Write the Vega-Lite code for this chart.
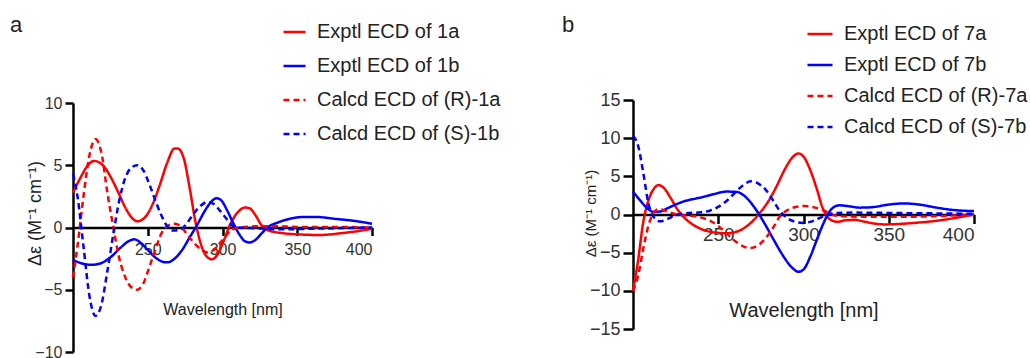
{
  "$schema": "https://vega.github.io/schema/vega-lite/v6.json",
  "background": "white",
  "padding": {"left": 10, "top": 13, "right": 0, "bottom": 5},
  "bounds": "full",
  "spacing": 61,
  "config": {
    "font": "Liberation Sans",
    "view": {"stroke": null},
    "axis": {
      "grid": false,
      "domainColor": "black",
      "domainWidth": 2.5,
      "tickColor": "black",
      "tickWidth": 2.5,
      "labelColor": "#333",
      "titleColor": "#222",
      "titleFontWeight": "normal",
      "labelFont": "Liberation Sans",
      "titleFont": "Liberation Sans"
    },
    "legend": {
      "labelFont": "Liberation Sans",
      "labelColor": "#222"
    },
    "title": {"font": "Liberation Sans", "color": "#222", "fontWeight": "normal"}
  },
  "resolve": {
    "scale": {"color": "independent", "strokeDash": "independent", "x": "independent", "y": "independent"},
    "legend": {"color": "independent", "strokeDash": "independent"}
  },
  "datasets": {
    "a": [
      {"s": "Exptl ECD of 1a", "x": 200, "y": 2.8},
      {"s": "Exptl ECD of 1a", "x": 205, "y": 4.0},
      {"s": "Exptl ECD of 1a", "x": 210, "y": 5.0},
      {"s": "Exptl ECD of 1a", "x": 214, "y": 5.35},
      {"s": "Exptl ECD of 1a", "x": 220, "y": 5.0},
      {"s": "Exptl ECD of 1a", "x": 225, "y": 4.1},
      {"s": "Exptl ECD of 1a", "x": 230, "y": 2.9},
      {"s": "Exptl ECD of 1a", "x": 235, "y": 1.6},
      {"s": "Exptl ECD of 1a", "x": 240, "y": 0.7},
      {"s": "Exptl ECD of 1a", "x": 243, "y": 0.5},
      {"s": "Exptl ECD of 1a", "x": 248, "y": 0.8},
      {"s": "Exptl ECD of 1a", "x": 253, "y": 1.8},
      {"s": "Exptl ECD of 1a", "x": 258, "y": 3.4},
      {"s": "Exptl ECD of 1a", "x": 263, "y": 5.2},
      {"s": "Exptl ECD of 1a", "x": 268, "y": 6.35},
      {"s": "Exptl ECD of 1a", "x": 270, "y": 6.35},
      {"s": "Exptl ECD of 1a", "x": 274, "y": 5.6},
      {"s": "Exptl ECD of 1a", "x": 278, "y": 3.2},
      {"s": "Exptl ECD of 1a", "x": 282, "y": 0.4},
      {"s": "Exptl ECD of 1a", "x": 286, "y": -1.5},
      {"s": "Exptl ECD of 1a", "x": 290, "y": -2.4},
      {"s": "Exptl ECD of 1a", "x": 293, "y": -2.55},
      {"s": "Exptl ECD of 1a", "x": 297, "y": -2.1},
      {"s": "Exptl ECD of 1a", "x": 301, "y": -1.0},
      {"s": "Exptl ECD of 1a", "x": 305, "y": 0.2},
      {"s": "Exptl ECD of 1a", "x": 310, "y": 1.2},
      {"s": "Exptl ECD of 1a", "x": 315, "y": 1.6},
      {"s": "Exptl ECD of 1a", "x": 318, "y": 1.55},
      {"s": "Exptl ECD of 1a", "x": 322, "y": 1.0},
      {"s": "Exptl ECD of 1a", "x": 326, "y": 0.2},
      {"s": "Exptl ECD of 1a", "x": 330, "y": -0.2},
      {"s": "Exptl ECD of 1a", "x": 340, "y": -0.45},
      {"s": "Exptl ECD of 1a", "x": 350, "y": -0.55},
      {"s": "Exptl ECD of 1a", "x": 365, "y": -0.6},
      {"s": "Exptl ECD of 1a", "x": 380, "y": -0.45},
      {"s": "Exptl ECD of 1a", "x": 390, "y": -0.3},
      {"s": "Exptl ECD of 1a", "x": 400, "y": -0.1},

      {"s": "Exptl ECD of 1b", "x": 200, "y": -2.6},
      {"s": "Exptl ECD of 1b", "x": 205, "y": -2.85},
      {"s": "Exptl ECD of 1b", "x": 212, "y": -3.0},
      {"s": "Exptl ECD of 1b", "x": 218, "y": -2.9},
      {"s": "Exptl ECD of 1b", "x": 225, "y": -2.4},
      {"s": "Exptl ECD of 1b", "x": 232, "y": -1.6},
      {"s": "Exptl ECD of 1b", "x": 238, "y": -1.05},
      {"s": "Exptl ECD of 1b", "x": 241, "y": -0.95},
      {"s": "Exptl ECD of 1b", "x": 245, "y": -1.2},
      {"s": "Exptl ECD of 1b", "x": 250, "y": -1.8},
      {"s": "Exptl ECD of 1b", "x": 255, "y": -2.4},
      {"s": "Exptl ECD of 1b", "x": 260, "y": -2.75},
      {"s": "Exptl ECD of 1b", "x": 263, "y": -2.8},
      {"s": "Exptl ECD of 1b", "x": 268, "y": -2.5},
      {"s": "Exptl ECD of 1b", "x": 273, "y": -1.8},
      {"s": "Exptl ECD of 1b", "x": 278, "y": -0.8},
      {"s": "Exptl ECD of 1b", "x": 283, "y": 0.2},
      {"s": "Exptl ECD of 1b", "x": 288, "y": 1.3},
      {"s": "Exptl ECD of 1b", "x": 292, "y": 2.0},
      {"s": "Exptl ECD of 1b", "x": 296, "y": 2.35},
      {"s": "Exptl ECD of 1b", "x": 299, "y": 2.2},
      {"s": "Exptl ECD of 1b", "x": 303, "y": 1.4},
      {"s": "Exptl ECD of 1b", "x": 307, "y": 0.4},
      {"s": "Exptl ECD of 1b", "x": 311, "y": -0.5},
      {"s": "Exptl ECD of 1b", "x": 315, "y": -1.1},
      {"s": "Exptl ECD of 1b", "x": 318, "y": -1.2},
      {"s": "Exptl ECD of 1b", "x": 322, "y": -1.0},
      {"s": "Exptl ECD of 1b", "x": 326, "y": -0.5},
      {"s": "Exptl ECD of 1b", "x": 330, "y": 0.0},
      {"s": "Exptl ECD of 1b", "x": 337, "y": 0.4},
      {"s": "Exptl ECD of 1b", "x": 345, "y": 0.7},
      {"s": "Exptl ECD of 1b", "x": 355, "y": 0.85},
      {"s": "Exptl ECD of 1b", "x": 362, "y": 0.85},
      {"s": "Exptl ECD of 1b", "x": 375, "y": 0.7},
      {"s": "Exptl ECD of 1b", "x": 390, "y": 0.5},
      {"s": "Exptl ECD of 1b", "x": 400, "y": 0.3},

      {"s": "Calcd ECD of (R)-1a", "x": 200, "y": -4.0},
      {"s": "Calcd ECD of (R)-1a", "x": 203, "y": -1.5},
      {"s": "Calcd ECD of (R)-1a", "x": 207, "y": 2.5},
      {"s": "Calcd ECD of (R)-1a", "x": 211, "y": 5.8},
      {"s": "Calcd ECD of (R)-1a", "x": 215, "y": 7.1},
      {"s": "Calcd ECD of (R)-1a", "x": 219, "y": 6.0},
      {"s": "Calcd ECD of (R)-1a", "x": 223, "y": 2.8},
      {"s": "Calcd ECD of (R)-1a", "x": 227, "y": 0.0},
      {"s": "Calcd ECD of (R)-1a", "x": 231, "y": -2.5},
      {"s": "Calcd ECD of (R)-1a", "x": 235, "y": -4.0},
      {"s": "Calcd ECD of (R)-1a", "x": 239, "y": -4.8},
      {"s": "Calcd ECD of (R)-1a", "x": 243, "y": -5.0},
      {"s": "Calcd ECD of (R)-1a", "x": 247, "y": -4.5},
      {"s": "Calcd ECD of (R)-1a", "x": 251, "y": -3.2},
      {"s": "Calcd ECD of (R)-1a", "x": 255, "y": -1.8},
      {"s": "Calcd ECD of (R)-1a", "x": 259, "y": -0.5},
      {"s": "Calcd ECD of (R)-1a", "x": 263, "y": 0.1},
      {"s": "Calcd ECD of (R)-1a", "x": 268, "y": 0.3},
      {"s": "Calcd ECD of (R)-1a", "x": 272, "y": 0.1},
      {"s": "Calcd ECD of (R)-1a", "x": 276, "y": -0.5},
      {"s": "Calcd ECD of (R)-1a", "x": 280, "y": -1.1},
      {"s": "Calcd ECD of (R)-1a", "x": 285, "y": -1.7},
      {"s": "Calcd ECD of (R)-1a", "x": 290, "y": -2.0},
      {"s": "Calcd ECD of (R)-1a", "x": 294, "y": -1.8},
      {"s": "Calcd ECD of (R)-1a", "x": 298, "y": -1.3},
      {"s": "Calcd ECD of (R)-1a", "x": 302, "y": -0.7},
      {"s": "Calcd ECD of (R)-1a", "x": 306, "y": -0.2},
      {"s": "Calcd ECD of (R)-1a", "x": 312, "y": 0.0},
      {"s": "Calcd ECD of (R)-1a", "x": 325, "y": 0.1},
      {"s": "Calcd ECD of (R)-1a", "x": 335, "y": 0.1},
      {"s": "Calcd ECD of (R)-1a", "x": 350, "y": 0.05},
      {"s": "Calcd ECD of (R)-1a", "x": 375, "y": 0.05},
      {"s": "Calcd ECD of (R)-1a", "x": 400, "y": 0.0},

      {"s": "Calcd ECD of (S)-1b", "x": 200, "y": 4.3},
      {"s": "Calcd ECD of (S)-1b", "x": 203, "y": 2.5},
      {"s": "Calcd ECD of (S)-1b", "x": 207, "y": -1.5},
      {"s": "Calcd ECD of (S)-1b", "x": 211, "y": -5.5},
      {"s": "Calcd ECD of (S)-1b", "x": 215, "y": -7.1},
      {"s": "Calcd ECD of (S)-1b", "x": 219, "y": -6.2},
      {"s": "Calcd ECD of (S)-1b", "x": 223, "y": -3.5},
      {"s": "Calcd ECD of (S)-1b", "x": 227, "y": -0.5},
      {"s": "Calcd ECD of (S)-1b", "x": 231, "y": 2.2},
      {"s": "Calcd ECD of (S)-1b", "x": 235, "y": 4.0},
      {"s": "Calcd ECD of (S)-1b", "x": 239, "y": 4.8},
      {"s": "Calcd ECD of (S)-1b", "x": 243, "y": 5.0},
      {"s": "Calcd ECD of (S)-1b", "x": 247, "y": 4.6},
      {"s": "Calcd ECD of (S)-1b", "x": 251, "y": 3.5},
      {"s": "Calcd ECD of (S)-1b", "x": 255, "y": 2.2},
      {"s": "Calcd ECD of (S)-1b", "x": 259, "y": 1.0},
      {"s": "Calcd ECD of (S)-1b", "x": 263, "y": 0.1},
      {"s": "Calcd ECD of (S)-1b", "x": 267, "y": -0.25},
      {"s": "Calcd ECD of (S)-1b", "x": 271, "y": -0.2},
      {"s": "Calcd ECD of (S)-1b", "x": 276, "y": 0.3},
      {"s": "Calcd ECD of (S)-1b", "x": 280, "y": 1.0},
      {"s": "Calcd ECD of (S)-1b", "x": 285, "y": 1.7},
      {"s": "Calcd ECD of (S)-1b", "x": 290, "y": 2.05},
      {"s": "Calcd ECD of (S)-1b", "x": 294, "y": 1.9},
      {"s": "Calcd ECD of (S)-1b", "x": 298, "y": 1.4},
      {"s": "Calcd ECD of (S)-1b", "x": 302, "y": 0.8},
      {"s": "Calcd ECD of (S)-1b", "x": 306, "y": 0.2},
      {"s": "Calcd ECD of (S)-1b", "x": 310, "y": 0.0},
      {"s": "Calcd ECD of (S)-1b", "x": 320, "y": -0.05},
      {"s": "Calcd ECD of (S)-1b", "x": 340, "y": -0.15},
      {"s": "Calcd ECD of (S)-1b", "x": 360, "y": -0.1},
      {"s": "Calcd ECD of (S)-1b", "x": 380, "y": -0.05},
      {"s": "Calcd ECD of (S)-1b", "x": 400, "y": 0.0}
    ],
    "b": [
      {"s": "Exptl ECD of 7a", "x": 200, "y": -10.0},
      {"s": "Exptl ECD of 7a", "x": 203, "y": -6.0},
      {"s": "Exptl ECD of 7a", "x": 206, "y": -1.0},
      {"s": "Exptl ECD of 7a", "x": 209, "y": 1.8},
      {"s": "Exptl ECD of 7a", "x": 212, "y": 3.3},
      {"s": "Exptl ECD of 7a", "x": 215, "y": 3.85},
      {"s": "Exptl ECD of 7a", "x": 218, "y": 3.5},
      {"s": "Exptl ECD of 7a", "x": 222, "y": 2.2},
      {"s": "Exptl ECD of 7a", "x": 226, "y": 0.7},
      {"s": "Exptl ECD of 7a", "x": 230, "y": -0.4},
      {"s": "Exptl ECD of 7a", "x": 235, "y": -1.3},
      {"s": "Exptl ECD of 7a", "x": 240, "y": -1.9},
      {"s": "Exptl ECD of 7a", "x": 245, "y": -2.25},
      {"s": "Exptl ECD of 7a", "x": 250, "y": -2.4},
      {"s": "Exptl ECD of 7a", "x": 255, "y": -2.45},
      {"s": "Exptl ECD of 7a", "x": 260, "y": -2.3},
      {"s": "Exptl ECD of 7a", "x": 265, "y": -1.8},
      {"s": "Exptl ECD of 7a", "x": 270, "y": -0.9},
      {"s": "Exptl ECD of 7a", "x": 274, "y": 0.1},
      {"s": "Exptl ECD of 7a", "x": 279, "y": 1.6},
      {"s": "Exptl ECD of 7a", "x": 284, "y": 3.6},
      {"s": "Exptl ECD of 7a", "x": 289, "y": 5.9},
      {"s": "Exptl ECD of 7a", "x": 294, "y": 7.6},
      {"s": "Exptl ECD of 7a", "x": 297, "y": 8.0},
      {"s": "Exptl ECD of 7a", "x": 300, "y": 7.6},
      {"s": "Exptl ECD of 7a", "x": 304, "y": 5.8},
      {"s": "Exptl ECD of 7a", "x": 308, "y": 3.2},
      {"s": "Exptl ECD of 7a", "x": 311, "y": 1.0},
      {"s": "Exptl ECD of 7a", "x": 314, "y": -0.3},
      {"s": "Exptl ECD of 7a", "x": 317, "y": -0.8},
      {"s": "Exptl ECD of 7a", "x": 320, "y": -0.95},
      {"s": "Exptl ECD of 7a", "x": 325, "y": -0.75},
      {"s": "Exptl ECD of 7a", "x": 330, "y": -0.7},
      {"s": "Exptl ECD of 7a", "x": 335, "y": -0.9},
      {"s": "Exptl ECD of 7a", "x": 342, "y": -1.2},
      {"s": "Exptl ECD of 7a", "x": 348, "y": -1.3},
      {"s": "Exptl ECD of 7a", "x": 355, "y": -1.25},
      {"s": "Exptl ECD of 7a", "x": 365, "y": -1.1},
      {"s": "Exptl ECD of 7a", "x": 375, "y": -0.9},
      {"s": "Exptl ECD of 7a", "x": 385, "y": -0.6},
      {"s": "Exptl ECD of 7a", "x": 395, "y": -0.2},
      {"s": "Exptl ECD of 7a", "x": 400, "y": 0.0},

      {"s": "Exptl ECD of 7b", "x": 200, "y": 3.0},
      {"s": "Exptl ECD of 7b", "x": 204, "y": 1.9},
      {"s": "Exptl ECD of 7b", "x": 208, "y": 0.9},
      {"s": "Exptl ECD of 7b", "x": 212, "y": 0.35},
      {"s": "Exptl ECD of 7b", "x": 216, "y": 0.4},
      {"s": "Exptl ECD of 7b", "x": 220, "y": 0.8},
      {"s": "Exptl ECD of 7b", "x": 226, "y": 1.4},
      {"s": "Exptl ECD of 7b", "x": 231, "y": 1.8},
      {"s": "Exptl ECD of 7b", "x": 237, "y": 2.1},
      {"s": "Exptl ECD of 7b", "x": 241, "y": 2.3},
      {"s": "Exptl ECD of 7b", "x": 248, "y": 2.7},
      {"s": "Exptl ECD of 7b", "x": 255, "y": 3.0},
      {"s": "Exptl ECD of 7b", "x": 261, "y": 2.95},
      {"s": "Exptl ECD of 7b", "x": 265, "y": 2.5},
      {"s": "Exptl ECD of 7b", "x": 270, "y": 1.3},
      {"s": "Exptl ECD of 7b", "x": 274, "y": 0.0},
      {"s": "Exptl ECD of 7b", "x": 278, "y": -1.5},
      {"s": "Exptl ECD of 7b", "x": 283, "y": -3.5},
      {"s": "Exptl ECD of 7b", "x": 288, "y": -5.4},
      {"s": "Exptl ECD of 7b", "x": 293, "y": -6.9},
      {"s": "Exptl ECD of 7b", "x": 297, "y": -7.5},
      {"s": "Exptl ECD of 7b", "x": 300, "y": -7.2},
      {"s": "Exptl ECD of 7b", "x": 304, "y": -5.5},
      {"s": "Exptl ECD of 7b", "x": 308, "y": -3.2},
      {"s": "Exptl ECD of 7b", "x": 312, "y": -1.0},
      {"s": "Exptl ECD of 7b", "x": 315, "y": 0.3},
      {"s": "Exptl ECD of 7b", "x": 318, "y": 1.0},
      {"s": "Exptl ECD of 7b", "x": 321, "y": 1.2},
      {"s": "Exptl ECD of 7b", "x": 326, "y": 1.1},
      {"s": "Exptl ECD of 7b", "x": 333, "y": 0.9},
      {"s": "Exptl ECD of 7b", "x": 340, "y": 0.95},
      {"s": "Exptl ECD of 7b", "x": 350, "y": 1.3},
      {"s": "Exptl ECD of 7b", "x": 359, "y": 1.45},
      {"s": "Exptl ECD of 7b", "x": 368, "y": 1.3},
      {"s": "Exptl ECD of 7b", "x": 378, "y": 0.9},
      {"s": "Exptl ECD of 7b", "x": 390, "y": 0.55},
      {"s": "Exptl ECD of 7b", "x": 400, "y": 0.45},

      {"s": "Calcd ECD of (R)-7a", "x": 200, "y": -10.0},
      {"s": "Calcd ECD of (R)-7a", "x": 203, "y": -8.0},
      {"s": "Calcd ECD of (R)-7a", "x": 206, "y": -4.5},
      {"s": "Calcd ECD of (R)-7a", "x": 209, "y": -1.5},
      {"s": "Calcd ECD of (R)-7a", "x": 212, "y": 0.2},
      {"s": "Calcd ECD of (R)-7a", "x": 215, "y": 0.7},
      {"s": "Calcd ECD of (R)-7a", "x": 219, "y": 0.5},
      {"s": "Calcd ECD of (R)-7a", "x": 224, "y": 0.1},
      {"s": "Calcd ECD of (R)-7a", "x": 230, "y": -0.1},
      {"s": "Calcd ECD of (R)-7a", "x": 238, "y": -0.3},
      {"s": "Calcd ECD of (R)-7a", "x": 245, "y": -0.8},
      {"s": "Calcd ECD of (R)-7a", "x": 250, "y": -1.5},
      {"s": "Calcd ECD of (R)-7a", "x": 255, "y": -2.5},
      {"s": "Calcd ECD of (R)-7a", "x": 260, "y": -3.5},
      {"s": "Calcd ECD of (R)-7a", "x": 265, "y": -4.2},
      {"s": "Calcd ECD of (R)-7a", "x": 268, "y": -4.4},
      {"s": "Calcd ECD of (R)-7a", "x": 272, "y": -4.2},
      {"s": "Calcd ECD of (R)-7a", "x": 277, "y": -3.3},
      {"s": "Calcd ECD of (R)-7a", "x": 282, "y": -1.8},
      {"s": "Calcd ECD of (R)-7a", "x": 286, "y": -0.3},
      {"s": "Calcd ECD of (R)-7a", "x": 290, "y": 0.5},
      {"s": "Calcd ECD of (R)-7a", "x": 295, "y": 0.95},
      {"s": "Calcd ECD of (R)-7a", "x": 300, "y": 1.1},
      {"s": "Calcd ECD of (R)-7a", "x": 305, "y": 1.0},
      {"s": "Calcd ECD of (R)-7a", "x": 310, "y": 0.7},
      {"s": "Calcd ECD of (R)-7a", "x": 315, "y": 0.2},
      {"s": "Calcd ECD of (R)-7a", "x": 318, "y": -0.1},
      {"s": "Calcd ECD of (R)-7a", "x": 325, "y": -0.25},
      {"s": "Calcd ECD of (R)-7a", "x": 340, "y": -0.3},
      {"s": "Calcd ECD of (R)-7a", "x": 360, "y": -0.3},
      {"s": "Calcd ECD of (R)-7a", "x": 380, "y": -0.2},
      {"s": "Calcd ECD of (R)-7a", "x": 400, "y": 0.0},

      {"s": "Calcd ECD of (S)-7b", "x": 200, "y": 10.3},
      {"s": "Calcd ECD of (S)-7b", "x": 203, "y": 9.0},
      {"s": "Calcd ECD of (S)-7b", "x": 206, "y": 5.5},
      {"s": "Calcd ECD of (S)-7b", "x": 209, "y": 1.5},
      {"s": "Calcd ECD of (S)-7b", "x": 212, "y": -0.3},
      {"s": "Calcd ECD of (S)-7b", "x": 216, "y": -0.9},
      {"s": "Calcd ECD of (S)-7b", "x": 220, "y": -0.6},
      {"s": "Calcd ECD of (S)-7b", "x": 225, "y": -0.1},
      {"s": "Calcd ECD of (S)-7b", "x": 230, "y": 0.15},
      {"s": "Calcd ECD of (S)-7b", "x": 240, "y": 0.3},
      {"s": "Calcd ECD of (S)-7b", "x": 245, "y": 0.5},
      {"s": "Calcd ECD of (S)-7b", "x": 250, "y": 1.0},
      {"s": "Calcd ECD of (S)-7b", "x": 255, "y": 1.8},
      {"s": "Calcd ECD of (S)-7b", "x": 260, "y": 2.9},
      {"s": "Calcd ECD of (S)-7b", "x": 265, "y": 3.9},
      {"s": "Calcd ECD of (S)-7b", "x": 269, "y": 4.35},
      {"s": "Calcd ECD of (S)-7b", "x": 273, "y": 4.1},
      {"s": "Calcd ECD of (S)-7b", "x": 278, "y": 3.2},
      {"s": "Calcd ECD of (S)-7b", "x": 282, "y": 1.9},
      {"s": "Calcd ECD of (S)-7b", "x": 286, "y": 0.5},
      {"s": "Calcd ECD of (S)-7b", "x": 290, "y": -0.4},
      {"s": "Calcd ECD of (S)-7b", "x": 295, "y": -0.95},
      {"s": "Calcd ECD of (S)-7b", "x": 300, "y": -1.1},
      {"s": "Calcd ECD of (S)-7b", "x": 305, "y": -0.9},
      {"s": "Calcd ECD of (S)-7b", "x": 310, "y": -0.4},
      {"s": "Calcd ECD of (S)-7b", "x": 314, "y": 0.0},
      {"s": "Calcd ECD of (S)-7b", "x": 320, "y": 0.2},
      {"s": "Calcd ECD of (S)-7b", "x": 330, "y": 0.25},
      {"s": "Calcd ECD of (S)-7b", "x": 350, "y": 0.2},
      {"s": "Calcd ECD of (S)-7b", "x": 375, "y": 0.15},
      {"s": "Calcd ECD of (S)-7b", "x": 400, "y": 0.1}
    ]
  },
  "hconcat": [
    {
      "width": 299,
      "height": 252,
      "title": {"text": "a", "anchor": "start", "frame": "group", "dx": -63, "fontSize": 22, "offset": -17},
      "data": {"name": "a"},
      "mark": {"type": "line", "strokeWidth": 2.5, "interpolate": "monotone"},
      "encoding": {
        "x": {
          "field": "x", "type": "quantitative",
          "scale": {"domain": [200, 400], "nice": false, "zero": false},
          "axis": {
            "values": [250, 300, 350, 400], "offset": -124.5,
            "title": "Wavelength [nm]", "titleFontSize": 16, "titlePadding": 44,
            "labelFontSize": 16, "tickSize": 8, "labelPadding": 6
          }
        },
        "y": {
          "field": "y", "type": "quantitative",
          "scale": {"domain": [-10, 10], "nice": false, "range": [252, 3]},
          "axis": {
            "values": [-10, -5, 0, 5, 10],
            "title": "Δε (M⁻¹ cm⁻¹)", "titleFontSize": 18,
            "titleAngle": -90, "titleAlign": "center", "titleBaseline": "middle",
            "titleX": -38, "titleY": 113,
            "labelFontSize": 16, "tickSize": 8, "labelPadding": 3
          }
        },
        "color": {
          "field": "s", "type": "nominal",
          "scale": {
            "domain": ["Exptl ECD of 1a", "Exptl ECD of 1b", "Calcd ECD of (R)-1a", "Calcd ECD of (S)-1b"],
            "range": ["#ff0000", "#0000ff", "#ff0000", "#0000ff"]
          },
          "legend": {
            "orient": "none", "legendX": 209, "legendY": -80.5, "title": null,
            "symbolType": "stroke", "symbolSize": 484, "symbolStrokeWidth": 2.5,
            "labelFontSize": 20, "labelOffset": 10, "rowPadding": 11, "padding": 0, "labelLimit": 400
          }
        },
        "strokeDash": {
          "field": "s", "type": "nominal",
          "scale": {
            "domain": ["Exptl ECD of 1a", "Exptl ECD of 1b", "Calcd ECD of (R)-1a", "Calcd ECD of (S)-1b"],
            "range": [[1, 0], [1, 0], [6, 4], [6, 4]]
          },
          "legend": {
            "orient": "none", "legendX": 209, "legendY": -80.5, "title": null,
            "symbolType": "stroke", "symbolSize": 484, "symbolStrokeWidth": 2.5,
            "labelFontSize": 20, "labelOffset": 10, "rowPadding": 11, "padding": 0, "labelLimit": 400
          }
        }
      }
    },
    {
      "width": 341,
      "height": 229,
      "title": {"text": "b", "anchor": "start", "frame": "group", "dx": -71, "fontSize": 22, "offset": -16.5},
      "data": {"name": "b"},
      "mark": {"type": "line", "strokeWidth": 2.5, "interpolate": "monotone"},
      "encoding": {
        "x": {
          "field": "x", "type": "quantitative",
          "scale": {"domain": [200, 400], "nice": false, "zero": false},
          "axis": {
            "values": [250, 300, 350, 400], "offset": -114.5,
            "title": "Wavelength [nm]", "titleFontSize": 20, "titlePadding": 56,
            "labelFontSize": 19, "tickSize": 9, "labelPadding": 2
          }
        },
        "y": {
          "field": "y", "type": "quantitative",
          "scale": {"domain": [-15, 15], "nice": false},
          "axis": {
            "values": [-15, -10, -5, 0, 5, 10, 15],
            "title": "Δε (M⁻¹ cm⁻¹)", "titleFontSize": 15,
            "titleAngle": -90, "titleAlign": "center", "titleBaseline": "middle",
            "titleX": -43, "titleY": 113,
            "labelFontSize": 18, "tickSize": 10, "labelPadding": 3
          }
        },
        "color": {
          "field": "s", "type": "nominal",
          "scale": {
            "domain": ["Exptl ECD of 7a", "Exptl ECD of 7b", "Calcd ECD of (R)-7a", "Calcd ECD of (S)-7b"],
            "range": ["#ff0000", "#0000ff", "#ff0000", "#0000ff"]
          },
          "legend": {
            "orient": "none", "legendX": 173, "legendY": -80, "title": null,
            "symbolType": "stroke", "symbolSize": 625, "symbolStrokeWidth": 2.5,
            "labelFontSize": 20, "labelOffset": 10, "rowPadding": 7, "padding": 0, "labelLimit": 400
          }
        },
        "strokeDash": {
          "field": "s", "type": "nominal",
          "scale": {
            "domain": ["Exptl ECD of 7a", "Exptl ECD of 7b", "Calcd ECD of (R)-7a", "Calcd ECD of (S)-7b"],
            "range": [[1, 0], [1, 0], [6, 4], [6, 4]]
          },
          "legend": {
            "orient": "none", "legendX": 173, "legendY": -80, "title": null,
            "symbolType": "stroke", "symbolSize": 625, "symbolStrokeWidth": 2.5,
            "labelFontSize": 20, "labelOffset": 10, "rowPadding": 7, "padding": 0, "labelLimit": 400
          }
        }
      }
    }
  ]
}
